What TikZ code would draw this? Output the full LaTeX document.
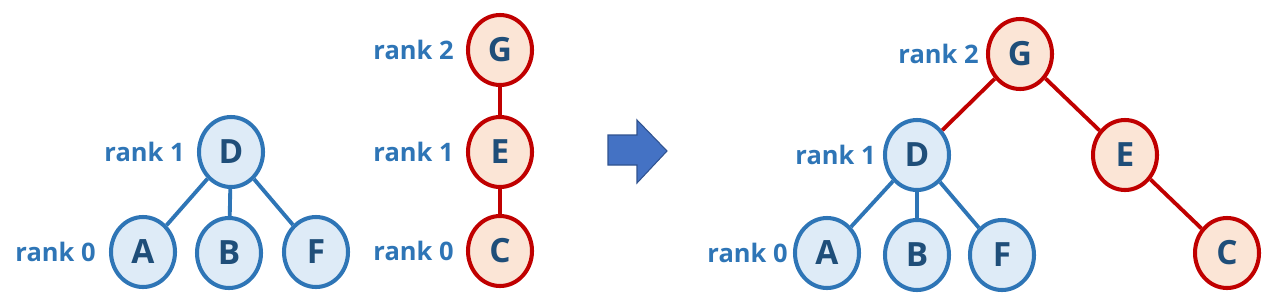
\documentclass[tikz,border=0pt]{standalone}
\usepackage{fontspec}
\setmainfont{Open Sans}
\usepackage{tikz}
\usetikzlibrary{positioning,shapes.geometric}
\definecolor{blueline}{HTML}{2E75B6}
\definecolor{bluefill}{HTML}{DEEBF7}
\definecolor{redline}{HTML}{C00000}
\definecolor{redfill}{HTML}{FBE5D6}
\definecolor{navy}{HTML}{1F4E79}
\definecolor{arrowblue}{HTML}{4472C4}
\definecolor{arrowedge}{HTML}{2F528F}

\begin{document}
\begin{tikzpicture}[
    bnode/.style={ellipse,draw=blueline,fill=bluefill,line width=2.3pt,minimum width=1.28cm,minimum height=1.40cm,inner sep=0pt,text=navy,font=\fontsize{19}{19}\selectfont\bfseries},
    rnode/.style={bnode,draw=redline,fill=redfill},
    ranklbl/.style={inner sep=0pt,text=blueline,font=\fontsize{14.5}{15}\selectfont\bfseries},
    bedge/.style={draw=blueline,line width=2.2pt},
    redge/.style={draw=redline,line width=2.2pt}]

\useasboundingbox (0,0) rectangle (25.6,6.08);

% Arbre D
\node[bnode] (D0) at (4.62,3.04) {D};
\node[bnode] (A0) at (2.86,1.04) {A};
\node[bnode] (B0) at (4.58,1.02) {B};
\node[bnode] (F0) at (6.32,1.04) {F};
\draw[bedge] (D0) -- (A0);
\draw[bedge] (D0) -- (B0);
\draw[bedge] (D0) -- (F0);

% Arbre G
\node[rnode] (G0) at (10.0,5.08) {G};
\node[rnode] (E0) at (10.0,3.04) {E};
\node[rnode] (C0) at (10.0,1.06) {C};
\draw[redge] (G0) -- (E0);
\draw[redge] (E0) -- (C0);

% Rangs
\node[ranklbl,left=0.24cm of D0] (rD0) {rank 1};
\node[ranklbl,left=0.26cm of A0] (rA0) {rank 0};
\node[ranklbl,left=0.24cm of G0] (rG0) {rank 2};
\node[ranklbl,left=0.24cm of E0] (rE0) {rank 1};
\node[ranklbl,left=0.24cm of C0] (rC0) {rank 0};

% Fleche
\filldraw[fill=arrowblue,draw=arrowedge,line width=0.6pt]
    (12.16,3.38) -- (12.74,3.38) -- (12.74,3.68) -- (13.34,3.06)
    -- (12.74,2.42) -- (12.74,2.78) -- (12.16,2.78) -- cycle;

% Union
\node[rnode] (G1) at (20.4,5.0) {G};
\node[bnode] (D1) at (18.34,2.98) {D};
\node[rnode] (E1) at (22.5,2.98) {E};
\node[bnode] (A1) at (16.54,1.02) {A};
\node[bnode] (B1) at (18.34,0.98) {B};
\node[bnode] (F1) at (20.04,0.98) {F};
\node[rnode] (C1) at (24.54,1.02) {C};
\draw[redge] (G1) -- (D1);
\draw[redge] (G1) -- (E1);
\draw[redge] (E1) -- (C1);
\draw[bedge] (D1) -- (A1);
\draw[bedge] (D1) -- (B1);
\draw[bedge] (D1) -- (F1);

\node[ranklbl,left=0.14cm of G1] (rG1) {rank 2};
\node[ranklbl,left=0.14cm of D1] (rD1) {rank 1};
\node[ranklbl,left=0.1cm of A1] (rA1) {rank 0};

\end{tikzpicture}
\end{document}
